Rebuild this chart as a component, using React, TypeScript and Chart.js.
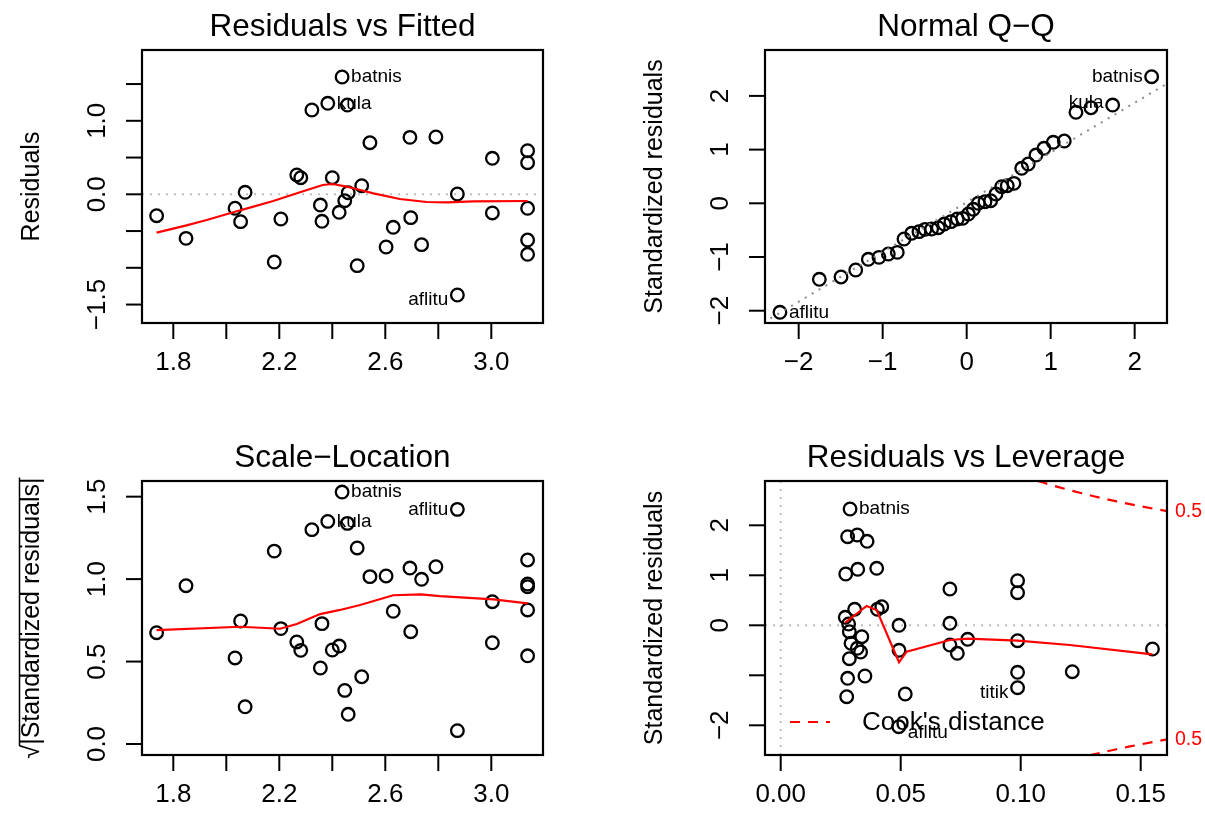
import React, { useEffect, useRef } from "react";
import { Chart, registerables } from "chart.js";

Chart.register(...registerables);

const FONT = '"Liberation Sans", Arial, Helvetica, sans-serif';
const PAGE_W = 1205;
const PAGE_H = 817;
const RED = "#FF0000";

// ---------------- Data: Residuals vs Fitted / Scale-Location ----------------
const fittedValues = [
  1.737, 1.848, 2.033, 2.054, 2.071, 2.181, 2.206, 2.266, 2.281, 2.323, 2.355, 2.361,
  2.383, 2.4, 2.426, 2.437, 2.447, 2.457, 2.46, 2.494, 2.511, 2.542, 2.603, 2.63,
  2.693, 2.696, 2.737, 2.791, 2.872, 2.872, 3.004, 3.004, 3.137, 3.137, 3.137, 3.137, 3.137,
];
const residualValues = [
  -0.291, -0.599, -0.19, -0.372, 0.027, -0.921, -0.336, 0.263, 0.226, 1.147, -0.146, -0.367,
  1.238, 0.226, -0.245, 1.596, -0.087, 1.215, 0.022, -0.971, 0.117, 0.702, -0.717, -0.449,
  0.775, -0.318, -0.685, 0.78, 0.004, -1.37, 0.49, -0.254, 0.593, 0.43, -0.19, -0.622, -0.816,
];
const sqrtStdResiduals = [
  0.675, 0.96, 0.522, 0.746, 0.226, 1.17, 0.7, 0.619, 0.568, 1.3, 0.461, 0.73,
  1.35, 0.57, 0.594, 1.528, 0.325, 1.338, 0.18, 1.189, 0.408, 1.015, 1.019, 0.805,
  1.067, 0.681, 0.999, 1.075, 0.081, 1.423, 0.863, 0.614, 1.116, 0.97, 0.954, 0.813, 0.535,
];
const residSmoothX = [1.737, 1.85, 1.926, 2.033, 2.089, 2.177, 2.278, 2.364, 2.4, 2.455, 2.505, 2.555, 2.655, 2.756, 2.832, 2.932, 3.137];
const residSmoothY = [-0.522, -0.422, -0.35, -0.237, -0.182, -0.091, 0.027, 0.127, 0.14, 0.104, 0.058, 0.013, -0.064, -0.105, -0.109, -0.095, -0.091];
const scaleSmoothX = [1.737, 2.052, 2.203, 2.266, 2.354, 2.429, 2.505, 2.63, 2.734, 2.806, 3.008, 3.137];
const scaleSmoothY = [0.691, 0.711, 0.699, 0.728, 0.788, 0.813, 0.843, 0.902, 0.908, 0.897, 0.877, 0.853];
const fittedIdIndex = [15, 12, 29];
const fittedIdNames = ["batnis", "kula", "aflitu"];

// ---------------- Data: Normal Q-Q ----------------
const theoreticalQuantiles = [
  -2.223, -1.754, -1.496, -1.321, -1.171, -1.044, -0.933, -0.826, -0.746, -0.655, -0.568, -0.496,
  -0.417, -0.338, -0.267, -0.187, -0.112, -0.048, 0.02, 0.079, 0.138, 0.218, 0.286, 0.349,
  0.417, 0.483, 0.563, 0.655, 0.733, 0.825, 0.92, 1.031, 1.162, 1.301, 1.48, 1.738, 2.202,
];
const sortedStdResiduals = [
  -2.03, -1.415, -1.372, -1.242, -1.043, -1.006, -0.944, -0.913, -0.665, -0.559, -0.528, -0.485,
  -0.479, -0.454, -0.386, -0.342, -0.292, -0.28, -0.2, -0.112, 0, 0.03, 0.049, 0.173,
  0.31, 0.328, 0.372, 0.652, 0.732, 0.899, 1.024, 1.136, 1.16, 1.695, 1.78, 1.83, 2.358,
];
const qqLineX = [-2.5, 2.5];
const qqLineY = [-2.295, 2.335];
const qqIdIndex = [36, 35, 0];
const qqIdNames = ["batnis", "kula", "aflitu"];

// ---------------- Data: Residuals vs Leverage ----------------
const leverageValues = [
  0.0289, 0.0279, 0.0319, 0.036, 0.0271, 0.0321, 0.04, 0.0705, 0.0987, 0.0987, 0.0269, 0.0308,
  0.0403, 0.0421, 0.0283, 0.0286, 0.0493, 0.0705, 0.0293, 0.0338, 0.0319, 0.0333, 0.0286, 0.0493,
  0.0705, 0.0736, 0.0779, 0.0987, 0.1549, 0.0279, 0.0351, 0.0987, 0.1215, 0.0275, 0.0519, 0.0987, 0.0492,
];
const leverageStdResiduals = [
  2.326, 1.772, 1.806, 1.68, 1.026, 1.12, 1.14, 0.726, 0.892, 0.652, 0.16, 0.32,
  0.32, 0.372, 0.026, -0.128, 0.0, 0.04, -0.36, -0.228, -0.46, -0.534, -0.668, -0.5,
  -0.394, -0.56, -0.28, -0.308, -0.474, -1.06, -1.014, -0.94, -0.928, -1.428, -1.374, -1.248, -2.028,
];
const leverageSmoothX = [0.0269, 0.0358, 0.04, 0.0493, 0.0525, 0.0705, 0.0779, 0.0987, 0.1205, 0.1549];
const leverageSmoothY = [0.052, 0.386, 0.306, -0.74, -0.528, -0.294, -0.268, -0.308, -0.394, -0.58];
const cookLeverage = [0.1, 0.105, 0.11, 0.115, 0.12, 0.125, 0.13, 0.135, 0.14, 0.145, 0.15, 0.155, 0.161];
const cookUpper = [3.0, 2.92, 2.845, 2.774, 2.708, 2.646, 2.587, 2.531, 2.479, 2.428, 2.381, 2.335, 2.283];
const cookLower = [-3.0, -2.92, -2.845, -2.774, -2.708, -2.646, -2.587, -2.531, -2.479, -2.428, -2.381, -2.335, -2.283];
const cookLevelLabel = "0.5";
const leverageIdIndex = [0, 35, 36];
const leverageIdNames = ["batnis", "titik", "aflitu"];

// ---------------- Axis ticks ----------------
const fittedTicks = [1.8, 2.0, 2.2, 2.4, 2.6, 2.8, 3.0];
const fittedTickLabels = ["1.8", "", "2.2", "", "2.6", "", "3.0"];
const residTicks = [-1.5, -1.0, -0.5, 0, 0.5, 1.0, 1.5];
const residTickLabels = ["\u22121.5", "", "", "0.0", "", "1.0", ""];
const qqTicks = [-2, -1, 0, 1, 2];
const qqTickLabels = ["\u22122", "\u22121", "0", "1", "2"];
const scaleTicks = [0, 0.5, 1.0, 1.5];
const scaleTickLabels = ["0.0", "0.5", "1.0", "1.5"];
const leverageTicks = [0, 0.05, 0.1, 0.15];
const leverageTickLabels = ["0.00", "0.05", "0.10", "0.15"];
const levResidTicks = [-2, -1, 0, 1, 2];
const levResidTickLabels = ["\u22122", "", "0", "1", "2"];

// ---------------- helpers ----------------
const pts = (xs: number[], ys: number[]) => xs.map((x, i) => ({ x, y: ys[i] }));

const pointSet = (xs: number[], ys: number[]) => ({
  data: pts(xs, ys),
  showLine: false,
  pointRadius: 6.3,
  pointBorderWidth: 2.3,
  pointBorderColor: "#000",
  pointBackgroundColor: "rgba(0,0,0,0)",
  borderColor: "#000",
  backgroundColor: "rgba(0,0,0,0)",
  order: 2,
  clip: false,
});

const lineSet = (xs: number[], ys: number[], color: string, width: number, dash: number[] = []) => ({
  data: pts(xs, ys),
  showLine: true,
  pointRadius: 0,
  borderColor: color,
  backgroundColor: color,
  borderWidth: width,
  borderDash: dash,
  tension: 0,
  fill: false,
  order: 1,
  clip: 0,
});

type IdLabel = { x: number; y: number; text: string; side: "left" | "right"; dy: number };

type Panel = {
  key: string;
  area: { left: number; top: number; right: number; bottom: number };
  xMin: number; xMax: number; yMin: number; yMax: number;
  xTicks: number[]; xTickText: string[];
  yTicks: number[]; yTickText: string[];
  title: string; yTitle: string; sqrtTitle?: boolean;
  datasets: any[];
  hLines: number[]; vLines: number[];
  ids: IdLabel[];
  extra?: (chart: any) => void;
};

const makeIds = (xs: number[], ys: number[], idx: number[], names: string[], sides: ("left" | "right")[], dys: number[]): IdLabel[] =>
  idx.map((k, j) => ({ x: xs[k], y: ys[k], text: names[j], side: sides[j], dy: dys[j] }));

const drawDotted = (ctx: CanvasRenderingContext2D, x1: number, y1: number, x2: number, y2: number, color: string) => {
  ctx.save();
  ctx.strokeStyle = color;
  ctx.lineWidth = 2;
  ctx.setLineDash([2, 6]);
  ctx.beginPath();
  ctx.moveTo(x1, y1);
  ctx.lineTo(x2, y2);
  ctx.stroke();
  ctx.restore();
};

const decorPlugin = (p: Panel) => ({
  id: "decor_" + p.key,
  beforeDatasetsDraw(chart: any) {
    const ctx: CanvasRenderingContext2D = chart.ctx;
    const a = chart.chartArea;
    const xs = chart.scales.x;
    const ys = chart.scales.y;
    ctx.save();
    ctx.beginPath();
    ctx.rect(a.left, a.top, a.right - a.left, a.bottom - a.top);
    ctx.clip();
    p.hLines.forEach((v) => {
      const y = ys.getPixelForValue(v);
      drawDotted(ctx, a.left, y, a.right, y, "#BEBEBE");
    });
    p.vLines.forEach((v) => {
      const x = xs.getPixelForValue(v);
      drawDotted(ctx, x, a.top, x, a.bottom, "#BEBEBE");
    });
    ctx.restore();
  },
  afterDatasetsDraw(chart: any) {
    const ctx: CanvasRenderingContext2D = chart.ctx;
    const a = chart.chartArea;
    const xs = chart.scales.x;
    const ys = chart.scales.y;
    ctx.save();
    ctx.setLineDash([]);
    ctx.strokeStyle = "#000";
    ctx.fillStyle = "#000";
    // box
    ctx.lineWidth = 2.2;
    ctx.strokeRect(a.left, a.top, a.right - a.left, a.bottom - a.top);
    ctx.lineWidth = 2;
    // x ticks
    ctx.font = `26px ${FONT}`;
    ctx.textAlign = "center";
    ctx.textBaseline = "middle";
    p.xTicks.forEach((v, i) => {
      const x = xs.getPixelForValue(v);
      ctx.beginPath();
      ctx.moveTo(x, a.bottom);
      ctx.lineTo(x, a.bottom + 16);
      ctx.stroke();
      if (p.xTickText[i]) ctx.fillText(p.xTickText[i], x, a.bottom + 40);
    });
    // y ticks
    p.yTicks.forEach((v, i) => {
      const y = ys.getPixelForValue(v);
      ctx.beginPath();
      ctx.moveTo(a.left, y);
      ctx.lineTo(a.left - 16, y);
      ctx.stroke();
      if (p.yTickText[i]) {
        ctx.save();
        ctx.translate(a.left - 44, y);
        ctx.rotate(-Math.PI / 2);
        ctx.fillText(p.yTickText[i], 0, 0);
        ctx.restore();
      }
    });
    // title
    ctx.font = `31.5px ${FONT}`;
    ctx.textBaseline = "alphabetic";
    ctx.fillText(p.title, (a.left + a.right) / 2, a.top - 14);
    // y title
    ctx.font = `25px ${FONT}`;
    ctx.save();
    ctx.translate(a.left - 110, (a.top + a.bottom) / 2);
    ctx.rotate(-Math.PI / 2);
    ctx.textBaseline = "middle";
    if (p.sqrtTitle) {
      const rad = "\u221A";
      const wR = ctx.measureText(rad).width;
      const wT = ctx.measureText(p.yTitle).width;
      const start = -(wR + wT) / 2;
      ctx.textAlign = "left";
      ctx.fillText(rad, start, 0);
      ctx.fillText(p.yTitle, start + wR, 0);
      ctx.lineWidth = 1.5;
      ctx.beginPath();
      ctx.moveTo(start + wR - 1, -12.5);
      ctx.lineTo(start + wR + wT, -12.5);
      ctx.stroke();
    } else {
      ctx.fillText(p.yTitle, 0, 0);
    }
    ctx.restore();
    // id labels
    ctx.font = `19px ${FONT}`;
    ctx.textBaseline = "middle";
    p.ids.forEach((l) => {
      const x = xs.getPixelForValue(l.x);
      const y = ys.getPixelForValue(l.y) + l.dy;
      if (l.side === "right") {
        ctx.textAlign = "left";
        ctx.fillText(l.text, x + 9, y);
      } else {
        ctx.textAlign = "right";
        ctx.fillText(l.text, x - 9, y);
      }
    });
    ctx.restore();
    if (p.extra) p.extra(chart);
  },
});

const leverageExtra = (chart: any) => {
  const ctx: CanvasRenderingContext2D = chart.ctx;
  const a = chart.chartArea;
  const ys = chart.scales.y;
  ctx.save();
  // right-side contour labels
  ctx.fillStyle = RED;
  ctx.font = `19.5px ${FONT}`;
  ctx.textAlign = "left";
  ctx.textBaseline = "middle";
  [cookUpper[cookUpper.length - 1], cookLower[cookLower.length - 1]].forEach((v) => {
    ctx.fillText(cookLevelLabel, a.right + 8, ys.getPixelForValue(v));
  });
  // legend
  const ly = a.bottom - 33;
  ctx.strokeStyle = RED;
  ctx.lineWidth = 2.2;
  ctx.setLineDash([10, 8]);
  ctx.beginPath();
  ctx.moveTo(a.left + 25, ly);
  ctx.lineTo(a.left + 65, ly);
  ctx.stroke();
  ctx.setLineDash([]);
  ctx.fillStyle = "#000";
  ctx.font = `26px ${FONT}`;
  ctx.fillText("Cook's distance", a.left + 97, ly + 1);
  ctx.restore();
};

const panels: Panel[] = [
  {
    key: "rvf",
    area: { left: 142, top: 50, right: 543, bottom: 323 },
    xMin: 1.6819, xMax: 3.1951, yMin: -1.751, yMax: 1.9633,
    xTicks: fittedTicks, xTickText: fittedTickLabels,
    yTicks: residTicks, yTickText: residTickLabels,
    title: "Residuals vs Fitted", yTitle: "Residuals",
    datasets: [pointSet(fittedValues, residualValues), lineSet(residSmoothX, residSmoothY, RED, 2.2)],
    hLines: [0], vLines: [],
    ids: makeIds(fittedValues, residualValues, fittedIdIndex, fittedIdNames, ["right", "right", "left"], [0, 0, 5]),
  },
  {
    key: "qq",
    area: { left: 765, top: 50, right: 1167, bottom: 323 },
    xMin: -2.401, xMax: 2.385, yMin: -2.229, yMax: 2.855,
    xTicks: qqTicks, xTickText: qqTickLabels,
    yTicks: qqTicks, yTickText: qqTickLabels,
    title: "Normal Q\u2212Q", yTitle: "Standardized residuals",
    datasets: [pointSet(theoreticalQuantiles, sortedStdResiduals), lineSet(qqLineX, qqLineY, "#8A8A8A", 2, [2, 6])],
    hLines: [], vLines: [],
    ids: makeIds(theoreticalQuantiles, sortedStdResiduals, qqIdIndex, qqIdNames, ["left", "left", "right"], [0, -2, 0]),
  },
  {
    key: "sl",
    area: { left: 142, top: 481, right: 543, bottom: 755 },
    xMin: 1.6819, xMax: 3.1951, yMin: -0.0667, yMax: 1.595,
    xTicks: fittedTicks, xTickText: fittedTickLabels,
    yTicks: scaleTicks, yTickText: scaleTickLabels,
    title: "Scale\u2212Location", yTitle: "|Standardized residuals|", sqrtTitle: true,
    datasets: [pointSet(fittedValues, sqrtStdResiduals), lineSet(scaleSmoothX, scaleSmoothY, RED, 2.2)],
    hLines: [], vLines: [],
    ids: makeIds(fittedValues, sqrtStdResiduals, fittedIdIndex, fittedIdNames, ["right", "right", "left"], [0, 0, 0]),
  },
  {
    key: "rvl",
    area: { left: 765, top: 481, right: 1167, bottom: 755 },
    xMin: -0.00654, xMax: 0.16096, yMin: -2.594, yMax: 2.886,
    xTicks: leverageTicks, xTickText: leverageTickLabels,
    yTicks: levResidTicks, yTickText: levResidTickLabels,
    title: "Residuals vs Leverage", yTitle: "Standardized residuals",
    datasets: [
      pointSet(leverageValues, leverageStdResiduals),
      lineSet(leverageSmoothX, leverageSmoothY, RED, 2.2),
      lineSet(cookLeverage, cookUpper, RED, 2.2, [10, 8]),
      lineSet(cookLeverage, cookLower, RED, 2.2, [10, 8]),
    ],
    hLines: [0], vLines: [0],
    ids: makeIds(leverageValues, leverageStdResiduals, leverageIdIndex, leverageIdNames, ["right", "left", "right"], [0, 5, 6]),
    extra: leverageExtra,
  },
];

function RPanel({ panel }: { panel: Panel }) {
  const ref = useRef<HTMLCanvasElement>(null);
  useEffect(() => {
    const canvas = ref.current;
    if (!canvas) return;
    const a = panel.area;
    const chart = new Chart(canvas, {
      type: "scatter",
      data: { datasets: panel.datasets as any },
      options: {
        responsive: false,
        maintainAspectRatio: false,
        animation: false,
        events: [],
        devicePixelRatio: 1,
        layout: { padding: { left: a.left, top: a.top, right: PAGE_W - a.right, bottom: PAGE_H - a.bottom } },
        plugins: { legend: { display: false }, tooltip: { enabled: false }, title: { display: false } },
        scales: {
          x: { type: "linear", min: panel.xMin, max: panel.xMax, display: false },
          y: { type: "linear", min: panel.yMin, max: panel.yMax, display: false },
        },
      } as any,
      plugins: [decorPlugin(panel) as any],
    });
    return () => chart.destroy();
  }, [panel]);
  return (
    <canvas
      ref={ref}
      width={PAGE_W}
      height={PAGE_H}
      style={{ position: "absolute", left: 0, top: 0, width: PAGE_W, height: PAGE_H }}
    />
  );
}

export default function App() {
  return (
    <div style={{ position: "absolute", left: 0, top: 0, width: PAGE_W, height: PAGE_H, background: "#fff", overflow: "hidden" }}>
      {panels.map((p) => (
        <RPanel key={p.key} panel={p} />
      ))}
    </div>
  );
}
